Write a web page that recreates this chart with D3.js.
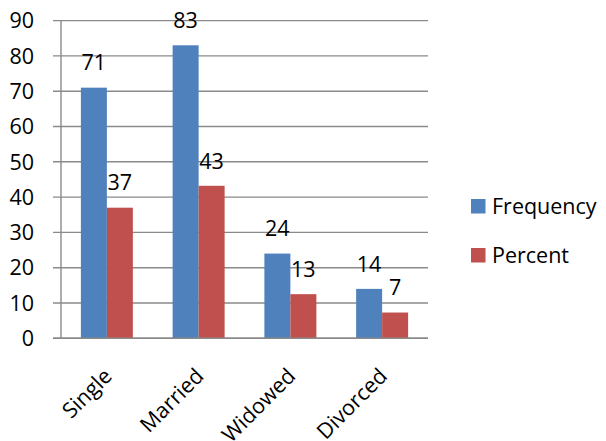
<!DOCTYPE html>
<html>
<head>
<meta charset="utf-8">
<script src="https://cdn.jsdelivr.net/npm/d3@7"></script>
<style>
  body { margin: 0; background: #fff; }
  svg text { font-family: "Open Sans", Lato, sans-serif; fill: #000; }
</style>
</head>
<body>
<svg id="chart" width="606" height="441"></svg>
<script>
const categories = ['Single', 'Married', 'Widowed', 'Divorced']
const seriesNames = ['Frequency', 'Percent']
const frequency = [71, 83, 24, 14]
const percent = [37.0, 43.2, 12.5, 7.3]
const yTicks = [0, 10, 20, 30, 40, 50, 60, 70, 80, 90]
const colors = ['#4F81BD', '#C0504D']

const svg = d3.select('#chart')

const x0 = d3.scaleBand().domain(categories).range([61, 428]).padding(0)
const x1 = d3.scaleBand().domain(seriesNames).range([0, x0.bandwidth()])
                .paddingInner(0).paddingOuter(0.765)
const y = d3.scaleLinear().domain([0, 90]).range([338.3, 20.6])

// gridlines + y ticks
svg.append('g')
    .selectAll('line')
    .data(yTicks)
    .enter()
    .append('line')
    .attr('x1', 53)
    .attr('x2', 428)
    .attr('y1', (d) => y(d))
    .attr('y2', (d) => y(d))
    .attr('stroke', '#8a8a8a')
    .attr('stroke-width', 1.4)

svg.append('g')
    .selectAll('text')
    .data(yTicks)
    .enter()
    .append('text')
    .attr('x', 34)
    .attr('y', (d) => y(d))
    .attr('dy', '0.36em')
    .attr('text-anchor', 'end')
    .attr('font-size', 21.5)
    .text((d) => d)

// y axis line
svg.append('line')
    .attr('x1', 61).attr('x2', 61)
    .attr('y1', y(90)).attr('y2', y(0))
    .attr('stroke', '#8a8a8a')
    .attr('stroke-width', 1.4)

const rows = categories.map((c, i) => ({ cat: c, values: [frequency[i], percent[i]] }))

const group = svg.selectAll('g.cat')
    .data(rows)
    .enter()
    .append('g')
    .attr('class', 'cat')
    .attr('transform', (d) => 'translate(' + x0(d.cat) + ',0)')

group.selectAll('rect')
    .data((d) => d.values.map((v, j) => ({ s: seriesNames[j], v: v, j: j })))
    .enter()
    .append('rect')
    .attr('x', (d) => x1(d.s))
    .attr('width', x1.bandwidth())
    .attr('y', (d) => y(d.v))
    .attr('height', (d) => y(0) - y(d.v))
    .attr('fill', (d) => colors[d.j])

group.selectAll('text.lbl')
    .data((d) => d.values.map((v, j) => ({ s: seriesNames[j], v: v })))
    .enter()
    .append('text')
    .attr('class', 'lbl')
    .attr('x', (d) => x1(d.s) + x1.bandwidth() / 2)
    .attr('y', (d) => y(d.v) - 25)
    .attr('dy', '0.36em')
    .attr('text-anchor', 'middle')
    .attr('font-size', 21.5)
    .text((d) => d3.format('.0f')(d.v))

// redraw baseline on top of bars
svg.append('line')
    .attr('x1', 53).attr('x2', 428)
    .attr('y1', y(0)).attr('y2', y(0))
    .attr('stroke', '#8a8a8a')
    .attr('stroke-width', 1.4)

// x labels
svg.append('g')
    .selectAll('text')
    .data(categories)
    .enter()
    .append('text')
    .attr('transform', (d) => 'translate(' + (x0(d) + x0.bandwidth() / 2 + 1) + ',372) rotate(-45)')
    .attr('text-anchor', 'end')
    .attr('dy', '0.36em')
    .attr('font-size', 21.5)
    .text((d) => d)

// legend
const legend = svg.append('g')
legend.selectAll('rect')
    .data(seriesNames)
    .enter()
    .append('rect')
    .attr('x', 471)
    .attr('y', (d, i) => 199 + i * 49)
    .attr('width', 14.5)
    .attr('height', 14.5)
    .attr('fill', (d, i) => colors[i])

legend.selectAll('text')
    .data(seriesNames)
    .enter()
    .append('text')
    .attr('x', 492)
    .attr('y', (d, i) => 206 + i * 49)
    .attr('dy', '0.36em')
    .attr('font-size', 21.5)
    .text((d) => d)
</script>
</body>
</html>
